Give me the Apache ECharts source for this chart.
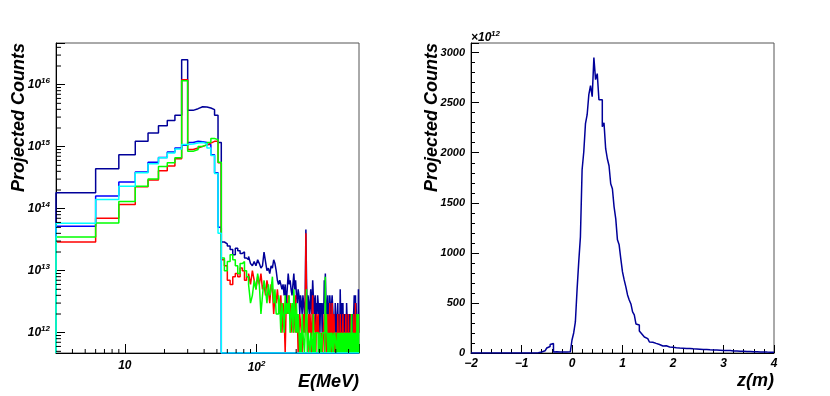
<!DOCTYPE html>
<html>
<head>
<meta charset="utf-8">
<script src="https://cdn.jsdelivr.net/npm/echarts@6/dist/echarts.min.js"></script>
<style>
  html, body { margin: 0; padding: 0; background: #fff; }
  #chart { width: 830px; height: 396px; }
</style>
</head>
<body>
<div id="chart"></div>
<script>
const $ = document.querySelector.bind(document)

// 左图：能谱，3 MeV 一格，3 ~ 600 MeV
const eStart = 3, eStep = 3, eEnd = 600
// 3-54 MeV 的 17 格（计数）
const lowNavy = [1.8e14, 4.4e14, 7.4e14, 1.22e15, 1.66e15, 2.18e15, 2.65e15, 3.2e15, 2.53e16, 3.85e15, 4.1e15, 4.4e15, 4.35e15, 4.2e15, 3.95e15, 3.2e15, 1.17e15]
const lowBlue = [5.2e13, 1.6e14, 2.7e14, 3.9e14, 5.6e14, 6.7e14, 8.2e14, 9.5e14, 1.05e15, 1.17e15, 1.22e15, 1.2e15, 1.17e15, 1.08e15, 7.4e14, 3.8e14, 5e13]
const lowRed = [2.9e13, 7e13, 1.17e14, 2.25e14, 2.9e14, 4.1e14, 4.9e14, 6.4e14, 1.2e16, 9e14, 9.5e14, 1.01e15, 1.06e15, 1.14e15, 1.22e15, 1.22e15, 5.5e14]
const lowGreen = [3.5e13, 5.9e13, 1.31e14, 2.3e14, 3e14, 4.8e14, 5.5e14, 6.6e14, 1.16e16, 8.4e14, 9e14, 1.01e15, 1.08e15, 1.17e15, 1.35e15, 1.3e15, 5.6e14]
const lowCyan = [5.8e13, 1.4e14, 2.3e14, 3.8e14, 5.3e14, 6.6e14, 7.9e14, 9.2e14, 1.08e15, 1.1e15, 1.15e15, 1.17e15, 1.12e15, 9.5e14, 7.2e14, 3.7e14, 4e13]
// 54-600 MeV 的 182 格（单位 1e12）
const tailNavy = [
  29, 27, 25, 22, 18, 23, 21, 19, 20, 16,
  15, 17, 13, 12, 14, 12, 15, 13, 11, 12,
  20, 14, 10, 11, 9, 12, 11, 15, 13, 10,
  7, 6, 7, 6, 5, 6, 4, 6, 3, 5,
  9, 6, 7, 5, 4, 6, 9, 5, 7, 4,
  3, 5, 4, 2, 4, 3, 2, 4, 3, 2,
  3, 46, 6, 2, 4, 3, 2, 3, 5, 2,
  3, 7, 4, 2, 3, 4, 1, 3, 2, 4,
  3, 2, 3, 1, 3, 2, 3, 1, 2, 3,
  2, 7, 3, 9, 4, 3, 1, 2, 4, 2,
  3, 1, 4, 4, 2, 1, 3, 4, 4, 2,
  1, 2, 2, 1, 3, 2, 1, 2, 1, 2,
  3, 1, 2, 1, 2, 1, 5, 2, 1, 3,
  2, 1, 2, 3, 1, 2, 1, 2, 1, 2,
  1, 2, 1, 3, 2, 1, 2, 1, 2, 1,
  2, 1, 2, 1, 2, 1, 2, 1, 2, 1,
  2, 1, 2, 1, 2, 2, 4, 1, 2, 1,
  4, 2, 3, 2, 1, 2, 1, 1, 2, 1,
  5, 1
]
const tailRed = [
  15, 12, 7, 6, 8, 9, 8, 11, 10, 7,
  8, 9, 6, 10, 7, 5, 8, 6, 9, 5,
  6, 4, 7, 5, 3, 6, 5, 2, 4, 3,
  5, 3, 2, 4, 1, 3, 2, 0, 3, 2,
  4, 2, 3, 1, 2, 3, 1, 2, 4, 1,
  2, 0, 1, 2, 2, 1, 0, 2, 1, 2,
  1, 40, 2, 1, 0, 2, 1, 2, 1, 0,
  2, 4, 1, 2, 2, 1, 0, 2, 1, 1,
  2, 0, 1, 1, 1, 0, 1, 1, 0, 1,
  1, 2, 0, 1, 2, 1, 0, 1, 2, 1,
  0, 1, 3, 1, 2, 0, 1, 3, 1, 0,
  1, 2, 1, 0, 1, 1, 0, 1, 1, 0,
  2, 1, 0, 1, 1, 0, 2, 1, 0, 1,
  1, 0, 1, 2, 0, 1, 1, 0, 1, 0,
  1, 2, 0, 1, 0, 1, 1, 0, 2, 1,
  0, 1, 0, 1, 1, 0, 2, 1, 0, 1,
  1, 0, 1, 0, 2, 1, 0, 1, 1, 0,
  3, 1, 0, 1, 1, 0, 1, 0, 1, 1,
  2, 1
]
const tailGreen = [
  16, 10, 14, 18, 15, 12, 9, 13, 14, 10,
  8, 6, 3, 4, 7, 5, 9, 6, 2, 4,
  7, 5, 3, 6, 4, 5, 8, 3, 5, 2,
  2, 4, 3, 1, 3, 2, 1, 4, 2, 3,
  2, 4, 1, 2, 3, 1, 5, 2, 1, 3,
  1, 2, 1, 0, 1, 0, 2, 1, 1, 0,
  1, 2, 5, 0, 1, 1, 1, 0, 1, 1,
  1, 0, 2, 0, 1, 0, 1, 1, 1, 1,
  0, 1, 1, 0, 1, 1, 0, 0, 1, 1,
  1, 1, 0, 8, 1, 2, 1, 1, 0, 1,
  1, 0, 1, 0, 0, 1, 1, 1, 0, 1,
  0, 0, 0, 1, 1, 1, 1, 0, 0, 1,
  1, 0, 1, 0, 1, 1, 0, 1, 1, 1,
  0, 1, 1, 1, 0, 1, 0, 1, 0, 1,
  0, 0, 0, 1, 1, 0, 1, 0, 0, 0,
  1, 0, 1, 0, 1, 0, 0, 0, 2, 0,
  0, 1, 1, 1, 0, 1, 1, 0, 1, 0,
  1, 1, 0, 1, 0, 2, 0, 0, 1, 0,
  2, 0
]
const tailBlue = [] // 54 MeV 以上无计数
const tailCyan = []

// 右图：z 分布，-2 ~ 4 m，1/30 m 一格（单位 1e12）
const zStart = -2, zEnd = 4
const zCounts = [
  0, 0, 0, 0, 0, 0, 0, 0, 0, 0,
  0, 0, 0, 0, 0, 0, 0, 0, 0, 0,
  0, 0, 0, 0, 0, 0, 0, 0, 0, 0,
  0, 0, 0, 0, 0, 0, 0, 0, 2, 3,
  3, 10, 15, 22, 35, 50, 65, 85, 95, 10,
  12, 8, 10, 12, 9, 11, 10, 13, 12, 15,
  130, 200, 310, 630, 910, 1160, 1830, 2010, 2290, 2380,
  2580, 2670, 2560, 2950, 2730, 2790, 2530, 2530, 2260, 2300,
  2040, 1940, 1870, 1690, 1640, 1460, 1340, 1130, 1080, 940,
  810, 730, 660, 580, 530, 490, 410, 380, 290, 280,
  220, 200, 180, 160, 144, 134, 110, 108, 94, 96,
  87, 85, 77, 70, 68, 72, 67, 60, 61, 57,
  55, 53, 52, 50, 51, 48, 47, 46, 44, 45,
  43, 42, 42, 40, 39, 38, 38, 36, 34, 35,
  33, 32, 32, 30, 31, 29, 28, 28, 27, 26,
  26, 24, 23, 24, 22, 21, 20, 21, 19, 18,
  18, 17, 17, 15, 16, 14, 14, 13, 12, 13,
  12, 11, 10, 11, 10, 9, 9, 8, 9, 8
]

// 刻度标签
const eTickVals = [10, 100]
const eTickExps = ['', '2']
const zTickLabels = ['\u22122', '\u22121', '0', '1', '2', '3', '4']
const cntTickLabels = ['0', '500', '1000', '1500', '2000', '2500', '3000']

const Y_MIN = 4.7e11, Y_MAX = 4.7e16
const C_MAX = 3096
const NAVY = '#000099'

// 直方图台阶点
function ePoints(low, tail) {
  const n = Math.round((eEnd - eStart) / eStep)
  const pts = [[eStart, Y_MIN]]
  for (let i = 0; i < n; i++) {
    let v = i < low.length ? low[i] : (tail[i - low.length] || 0) * 1e12
    if (v < Y_MIN) v = Y_MIN
    pts.push([eStart + i * eStep, v])
  }
  pts.push([eEnd, pts[pts.length - 1][1]])
  return pts
}

function zPoints() {
  const w = (zEnd - zStart) / zCounts.length
  const pts = [[zStart, 0]]
  zCounts.forEach((v, i) => pts.push([zStart + i * w, v]))
  pts.push([zEnd, zCounts[zCounts.length - 1]])
  return pts
}

function stepLine(name, data, color, idx) {
  return {
    type: 'line', name, data, xAxisIndex: idx, yAxisIndex: idx,
    step: 'end', symbol: 'none', showSymbol: false, clip: true,
    lineStyle: { color, width: 1.5 }, itemStyle: { color },
    emphasis: { disabled: true }
  }
}

// 对数轴的次刻度
function tickSeries(data, horizontal, len) {
  return {
    type: 'custom', xAxisIndex: 0, yAxisIndex: 0, silent: true, clip: false, z: 5,
    data,
    renderItem(params, api) {
      const p = api.coord([api.value(0), api.value(1)])
      const shape = horizontal
        ? { x1: p[0], y1: p[1], x2: p[0] + len, y2: p[1] }
        : { x1: p[0], y1: p[1], x2: p[0], y2: p[1] - len }
      return { type: 'line', shape, style: { stroke: '#000', lineWidth: 1 } }
    }
  }
}

const xMinor = [], yMinor = []
for (let d = 0; d <= 2; d++) {
  for (let m = 2; m <= 9; m++) {
    const v = m * 10 ** d
    if (v > eStart && v < eEnd) xMinor.push([v, Y_MIN])
  }
}
for (let d = 11; d <= 16; d++) {
  for (let m = 2; m <= 9; m++) {
    const v = m * 10 ** d
    if (v > Y_MIN && v < Y_MAX) yMinor.push([eStart, v])
  }
}

const font = { fontFamily: 'Liberation Sans', fontStyle: 'italic', fontWeight: 'bold', color: '#000' }
const rich = {
  b: { ...font, fontSize: 12 },
  s: { ...font, fontSize: 8, padding: [0, 0, 8, 0] }
}
const axisLine = { show: true, onZero: false, lineStyle: { color: '#000', width: 1 } }

const option = {
  animation: false,
  backgroundColor: '#fff',
  grid: [
    { left: 56, top: 43, width: 303, height: 310, show: true, borderColor: '#555', borderWidth: 1, containLabel: false, outerBoundsMode: 'none' },
    { left: 471, top: 43, width: 303, height: 310, show: true, borderColor: '#555', borderWidth: 1, containLabel: false, outerBoundsMode: 'none' }
  ],
  xAxis: [
    {
      type: 'log', logBase: 10, gridIndex: 0, min: eStart, max: eEnd,
      axisLine, splitLine: { show: false },
      axisTick: { show: true, inside: true, length: 9, lineStyle: { color: '#000' } },
      axisLabel: {
        margin: 7, hideOverlap: false, rich,
        formatter: v => {
          const i = eTickVals.findIndex(t => Math.abs(t - v) < 1e-6 * t)
          if (i < 0) return ''
          return eTickExps[i] ? `{b|10}{s|${eTickExps[i]}}` : '{b|10}'
        }
      }
    },
    {
      type: 'value', gridIndex: 1, min: zStart, max: zEnd, interval: 1,
      axisLine, splitLine: { show: false },
      axisTick: { show: true, inside: true, length: 8, lineStyle: { color: '#000' } },
      minorTick: { show: true, splitNumber: 5, length: 4, lineStyle: { color: '#000' } },
      axisLabel: {
        margin: 5, hideOverlap: false, ...font, fontSize: 12,
        formatter: v => zTickLabels[Math.round(v - zStart)] ?? ''
      }
    }
  ],
  yAxis: [
    {
      type: 'log', logBase: 10, gridIndex: 0, min: Y_MIN, max: Y_MAX,
      axisLine, splitLine: { show: false },
      axisTick: { show: true, inside: true, length: 9, lineStyle: { color: '#000' } },
      axisLabel: {
        margin: 6, hideOverlap: false, rich,
        formatter: v => {
          const e = Math.log10(v)
          return Math.abs(e - Math.round(e)) < 1e-6 ? `{b|10}{s|${Math.round(e)}}` : ''
        }
      }
    },
    {
      type: 'value', gridIndex: 1, min: 0, max: C_MAX, interval: 500,
      axisLine, splitLine: { show: false },
      axisTick: { show: true, inside: true, length: 8, lineStyle: { color: '#000' } },
      minorTick: { show: true, splitNumber: 5, length: 4, lineStyle: { color: '#000' } },
      axisLabel: {
        margin: 6, hideOverlap: false, ...font, fontSize: 11,
        formatter: v => v % 500 === 0 ? cntTickLabels[v / 500] : ''
      }
    }
  ],
  series: [
    stepLine('total', ePoints(lowNavy, tailNavy), NAVY, 0),
    stepLine('blue', ePoints(lowBlue, tailBlue), '#0000ff', 0),
    stepLine('red', ePoints(lowRed, tailRed), '#ff0000', 0),
    stepLine('green', ePoints(lowGreen, tailGreen), '#00ff00', 0),
    stepLine('cyan', ePoints(lowCyan, tailCyan), '#00ffff', 0),
    stepLine('z', zPoints(), NAVY, 1),
    tickSeries(xMinor, false, 4),
    tickSeries(yMinor, true, 5)
  ],
  graphic: [
    { type: 'text', x: 19, y: 43, rotation: Math.PI / 2, style: { text: 'Projected Counts', font: 'italic bold 18px "Liberation Sans"', fill: '#000', align: 'right', verticalAlign: 'middle', textAlign: 'right', textVerticalAlign: 'middle' } },
    { type: 'text', x: 432, y: 43, rotation: Math.PI / 2, style: { text: 'Projected Counts', font: 'italic bold 18px "Liberation Sans"', fill: '#000', align: 'right', verticalAlign: 'middle', textAlign: 'right', textVerticalAlign: 'middle' } },
    { type: 'text', x: 359, y: 382, style: { text: 'E(MeV)', font: 'italic bold 18px "Liberation Sans"', fill: '#000', align: 'right', verticalAlign: 'middle', textAlign: 'right', textVerticalAlign: 'middle' } },
    { type: 'text', x: 774, y: 381, style: { text: 'z(m)', font: 'italic bold 18px "Liberation Sans"', fill: '#000', align: 'right', verticalAlign: 'middle', textAlign: 'right', textVerticalAlign: 'middle' } },
    { type: 'text', x: 471, y: 38, style: { text: '\u00d710', font: 'italic bold 12px "Liberation Sans"', fill: '#000', align: 'left', verticalAlign: 'middle', textAlign: 'left', textVerticalAlign: 'middle' } },
    { type: 'text', x: 491, y: 33.5, style: { text: '12', font: 'italic bold 8px "Liberation Sans"', fill: '#000', align: 'left', verticalAlign: 'middle', textAlign: 'left', textVerticalAlign: 'middle' } }
  ]
}

const chart = echarts.init($('#chart'), null, { renderer: 'canvas' })
chart.setOption(option)
</script>
</body>
</html>
